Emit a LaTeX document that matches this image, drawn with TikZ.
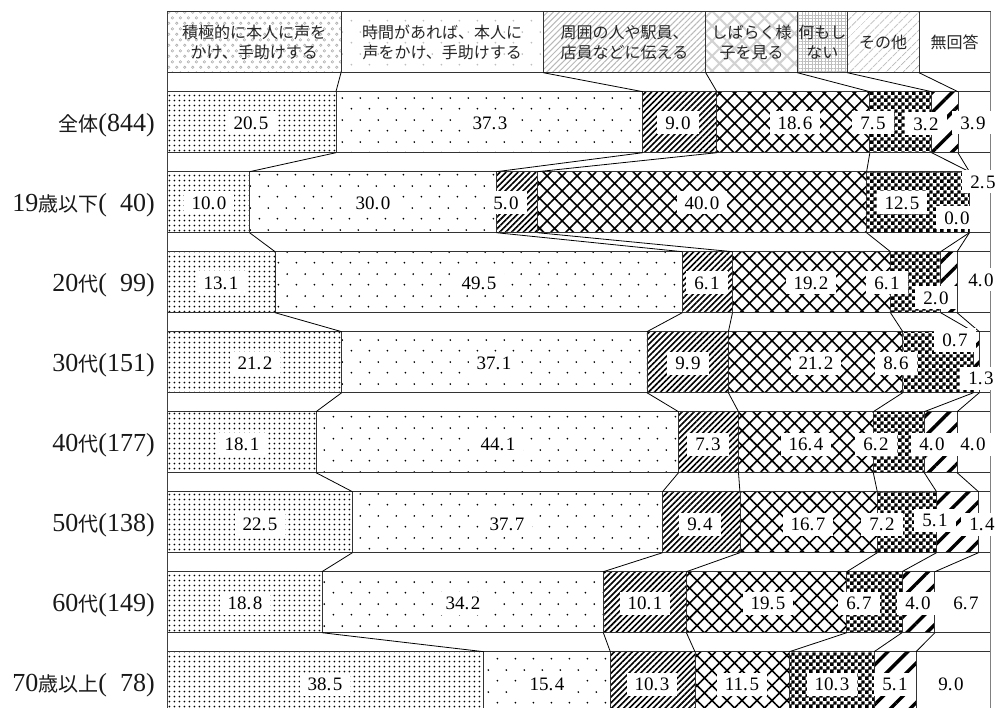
\documentclass[tikz,border=0pt]{standalone}
\usepackage{fontspec}
\setmainfont{Liberation Serif}
\newfontfamily\jpf{Noto Sans CJK JP}
\usetikzlibrary{patterns,patterns.meta}

\pgfdeclarepatternformonly{densedots}{\pgfqpoint{0pt}{0pt}}{\pgfqpoint{5.4pt}{5.4pt}}{\pgfqpoint{5.4pt}{5.4pt}}{%
  \pgfpathcircle{\pgfqpoint{2.7pt}{2.7pt}}{1.05pt}%
  \pgfusepath{fill}}
\pgfdeclarepatternformonly{sparsedots}{\pgfqpoint{0pt}{0pt}}{\pgfqpoint{18.3pt}{22pt}}{\pgfqpoint{18.3pt}{22pt}}{%
  \pgfpathcircle{\pgfqpoint{4.6pt}{5.5pt}}{1pt}%
  \pgfpathcircle{\pgfqpoint{13.75pt}{16.5pt}}{1pt}%
  \pgfusepath{fill}}
\pgfdeclarepatternformonly{checker}{\pgfqpoint{0pt}{0pt}}{\pgfqpoint{6.8pt}{6.8pt}}{\pgfqpoint{6.8pt}{6.8pt}}{%
  \pgfpathrectangle{\pgfqpoint{0pt}{0pt}}{\pgfqpoint{3.6pt}{3.6pt}}%
  \pgfpathrectangle{\pgfqpoint{3.4pt}{3.4pt}}{\pgfqpoint{3.4pt}{3.4pt}}%
  \pgfusepath{fill}}
\pgfdeclarepatternformonly{rings}{\pgfqpoint{0pt}{0pt}}{\pgfqpoint{7.6pt}{11.4pt}}{\pgfqpoint{7.6pt}{11.4pt}}{%
  \pgfsetlinewidth{0.6pt}%
  \pgfpathcircle{\pgfqpoint{1.9pt}{2.85pt}}{1.3pt}%
  \pgfpathcircle{\pgfqpoint{5.7pt}{8.55pt}}{1.3pt}%
  \pgfusepath{stroke}}

\newcommand\rlj[1]{{\jpf\fontsize{20pt}{20pt}\selectfont #1}}
\newcommand\rln[1]{{\fontsize{26pt}{26pt}\selectfont #1}}

\tikzset{
  bar/.style={draw=black!80,line width=0.8pt},
  seg1/.style={pattern=densedots,pattern color=black},
  seg2/.style={pattern=sparsedots,pattern color=black},
  seg3/.style={pattern={Lines[angle=45,distance=4.2pt,line width=1.6pt]},pattern color=black},
  seg4/.style={pattern={Hatch[angle=45,distance=10.6pt,line width=1.6pt]},pattern color=black},
  seg5/.style={pattern=checker,pattern color=black},
  seg6/.style={pattern={Lines[angle=45,distance=14pt,line width=3.4pt]},pattern color=black},
  seg7/.style={fill=white},
  hd1/.style={pattern=rings,pattern color=gray!65},
  hd2/.style={pattern=sparsedots,pattern color=gray!50},
  hd3/.style={pattern={Lines[angle=45,distance=4.2pt,line width=1pt]},pattern color=gray!55},
  hd4/.style={pattern={Hatch[angle=45,distance=10.6pt,line width=2pt]},pattern color=gray!35},
  hd5/.style={pattern={Hatch[angle=0,distance=3.3pt,line width=0.5pt]},pattern color=gray!50},
  hd6/.style={pattern={Lines[angle=45,distance=6.5pt,line width=0.8pt]},pattern color=gray!60},
  hd7/.style={fill=white},
  htext/.style={font=\jpf\fontsize{16pt}{20pt}\selectfont,text=black!85,align=center,inner sep=0pt},
  conn/.style={draw=black,line width=0.8pt},
  frame/.style={draw=black!75,line width=0.9pt},
  rframe/.style={draw=black!50,line width=1.6pt},
  lab/.style={fill=white,inner xsep=8pt,inner ysep=5pt,text height=13pt,text depth=0pt,
    font=\fontsize{19pt}{19pt}\selectfont},
  rowlab/.style={anchor=base east,inner sep=0pt,text=black!90}
}

\begin{document}
\begin{tikzpicture}[x=1pt,y=-1pt]
\fill[white] (0,0) rectangle (998,708);
\useasboundingbox (0,0) rectangle (998,708);
\clip (0,0) rectangle (998,708);

% header boxes
\foreach \k/\xa/\xb/\tx in {
  1/167.3/341/{積極的に本人に声を\\かけ、手助けする},
  2/341/543.3/{時間があれば、本人に\\声をかけ、手助けする},
  3/543.3/705.7/{周囲の人や駅員、\\店員などに伝える},
  4/705.7/797.3/{しばらく様\\子を見る},
  5/797.3/847.3/{何もし\\ない},
  6/847.3/919/{その他},
  7/919/990/{無回答}} {
  \draw[bar,hd\k] (\xa,11.7) rectangle (\xb,72.7);
  \node[htext] (h\k) at ({(\xa+\xb)/2},42.2) {\tx};
  \coordinate (hb\k) at (\xb,72.7);
}

% bars
\foreach \r/\s/\v in {
  1/100/{20.5,37.3,9.0,18.6,7.5,3.2,3.9},
  2/100/{10.0,30.0,5.0,40.0,12.5,0.0,2.5},
  3/100/{13.1,49.5,6.1,19.2,6.1,2.0,4.0},
  4/100/{21.2,37.1,9.9,21.2,8.6,0.7,1.3},
  5/100.1/{18.1,44.1,7.3,16.4,6.2,4.0,4.0},
  6/100/{22.5,37.7,9.4,16.7,7.2,5.1,1.4},
  7/100/{18.8,34.2,10.1,19.5,6.7,4.0,6.7},
  8/100.1/{38.5,15.4,10.3,11.5,10.3,5.1,9.0}} {
  \pgfmathsetmacro\ya{91.7+80*(\r-1)}
  \pgfmathsetmacro\yb{\ya+61}
  \xdef\cum{0}
  \foreach \p [count=\k] in \v {
    \pgfmathsetmacro\xa{167.3+(\cum/\s)*822.7}
    \pgfmathsetmacro\nc{\cum+\p}
    \xdef\cum{\nc}
    \pgfmathsetmacro\xb{167.3+(\nc/\s)*822.7}
    \draw[bar,seg\k] (\xa,\ya) rectangle (\xb,\yb);
    \coordinate (t\r-\k) at (\xb,\ya);
    \coordinate (u\r-\k) at (\xb,\yb);
  }
}

% frame
\draw[frame] (167.3,11.7) -- (167.3,712);
\draw[rframe] (990.3,11.7) -- (990.3,712);

% connectors
\foreach \k in {1,...,6} \draw[conn] (hb\k) -- (t1-\k);
\foreach \r [evaluate=\r as \rn using int(\r+1)] in {1,...,7}
  \foreach \k in {1,...,6} \draw[conn] (u\r-\k) -- (t\rn-\k);

% value labels
\foreach \r/\k/\x/\y/\a/\b in {
  1/1/251/123/20/5, 1/2/490/123/37/3, 1/3/678/123/9/0, 1/4/795/123/18/6, 1/5/873/123/7/5, 1/6/926/124/3/2, 1/7/973/123/3/9,
  2/1/209/203/10/0, 2/2/373/203/30/0, 2/3/506/203/5/0, 2/4/702/203/40/0, 2/5/902/203/12/5, 2/6/957/218/0/0, 2/7/983/182/2/5,
  3/1/221/283/13/1, 3/2/479/283/49/5, 3/3/707/283/6/1, 3/4/811/283/19/2, 3/5/887/283/6/1, 3/6/936/298/2/0, 3/7/981/280/4/0,
  4/1/255/363/21/2, 4/2/494/363/37/1, 4/3/688/363/9/9, 4/4/816/363/21/2, 4/5/896/363/8/6, 4/6/955/340/0/7, 4/7/981/378/1/3,
  5/1/242/444/18/1, 5/2/498/444/44/1, 5/3/708/444/7/3, 5/4/806/444/16/4, 5/5/876/444/6/2, 5/6/932/444/4/0, 5/7/973/444/4/0,
  6/1/260/524/22/5, 6/2/507/524/37/7, 6/3/700/524/9/4, 6/4/808/524/16/7, 6/5/882/524/7/2, 6/6/935/520/5/1, 6/7/982/524/1/4,
  7/1/245/603/18/8, 7/2/463/603/34/2, 7/3/645/603/10/1, 7/4/768/603/19/5, 7/5/859/603/6/7, 7/6/918/603/4/0, 7/7/966/603/6/7,
  8/1/325/684/38/5, 8/2/547/684/15/4, 8/3/652/684/10/3, 8/4/742/684/11/5, 8/5/832/684/10/3, 8/6/895/684/5/1, 8/7/951/684/9/0}
  \node[lab] (l\r-\k) at (\x,\y) {\a.\kern1.6pt\b};

% row labels
\foreach \r/\t in {
  1/{\rlj{全体}\rln{(844)}},
  2/{\rln{19}\rlj{歳以下}\rln{(\hphantom{0}40)}},
  3/{\rln{20}\rlj{代}\rln{(\hphantom{0}99)}},
  4/{\rln{30}\rlj{代}\rln{(151)}},
  5/{\rln{40}\rlj{代}\rln{(177)}},
  6/{\rln{50}\rlj{代}\rln{(138)}},
  7/{\rln{60}\rlj{代}\rln{(149)}},
  8/{\rln{70}\rlj{歳以上}\rln{(\hphantom{0}78)}}}
  \node[rowlab] (r\r) at (155,{131.7+80*(\r-1)}) {\t};
\end{tikzpicture}
\end{document}
